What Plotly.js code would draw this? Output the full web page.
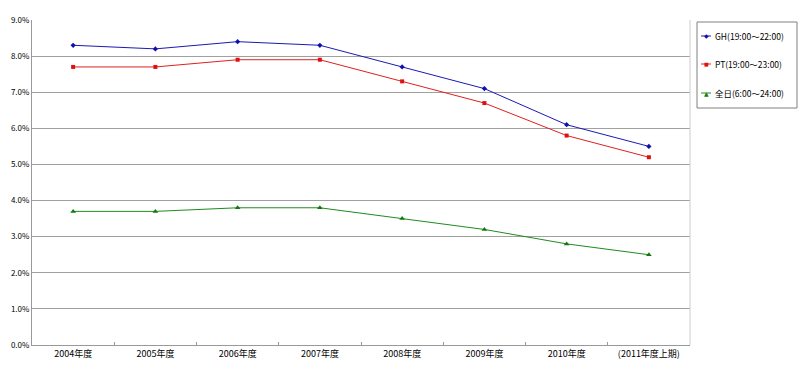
<!DOCTYPE html>
<html><head><meta charset="utf-8">
<script src="https://cdn.plot.ly/plotly-3.0.1.min.js"></script>
<style>html,body{margin:0;padding:0;background:#fff;}</style>
</head><body>
<div id="chart" style="width:800px;height:370px;"></div>
<script>
const categories = ["2004年度","2005年度","2006年度","2007年度","2008年度","2009年度","2010年度","(2011年度上期)"];
const seriesNames = ["GH(19:00～22:00)","PT(19:00～23:00)","全日(6:00～24:00)"];
const ghValues = [8.3, 8.2, 8.4, 8.3, 7.7, 7.1, 6.1, 5.5];
const ptValues = [7.7, 7.7, 7.9, 7.9, 7.3, 6.7, 5.8, 5.2];
const allDayValues = [3.7, 3.7, 3.8, 3.8, 3.5, 3.2, 2.8, 2.5];
const yTickVals = [0,1,2,3,4,5,6,7,8,9];
const yTickText = ["0.0%","1.0%","2.0%","3.0%","4.0%","5.0%","6.0%","7.0%","8.0%","9.0%"];

const font = "'Noto Sans CJK JP', 'DejaVu Sans', sans-serif";
const colors = ["#1a1ab4", "#e02020", "#208a20"];
const markerColors = ["#1010b0", "#e01010", "#107a10"];
const symbols = ["diamond", "square", "triangle-up"];
const glyphs = ["◆", "■", "▲"];
const seriesValues = [ghValues, ptValues, allDayValues];

const traces = seriesValues.map((v, i) => ({
  x: categories, y: v, name: seriesNames[i], mode: "lines+markers", showlegend: false,
  line: {color: colors[i], width: 1},
  marker: {symbol: symbols[i], size: i === 2 ? 5 : 4, color: markerColors[i]}
}));

// plot area geometry in pixels (for legend placement in paper coords)
const L = 32, R = 690, T = 20, B = 345;
const px = x => (x - L) / (R - L);
const py = y => (B - y) / (B - T);
const legendRows = [36, 64, 93];

const shapes = [
  {type: "line", xref: "paper", yref: "paper", x0: 1, x1: 1, y0: 0, y1: 1, line: {color: "#ccc", width: 1}},
  {type: "rect", xref: "paper", yref: "paper", x0: px(697), x1: px(797), y0: py(108), y1: py(22),
   line: {color: "#808080", width: 1}, fillcolor: "#fff"}
];
const annotations = [];
legendRows.forEach((ry, i) => {
  shapes.push({type: "line", xref: "paper", yref: "paper", x0: px(701), x1: px(711), y0: py(ry), y1: py(ry),
               line: {color: colors[i], width: 1}});
  annotations.push({xref: "paper", yref: "paper", x: px(706), y: py(ry), text: glyphs[i], showarrow: false,
                    xanchor: "center", yanchor: "middle", font: {family: "DejaVu Sans", size: i === 1 ? 5 : 6, color: markerColors[i]}});
  annotations.push({xref: "paper", yref: "paper", x: px(713), y: py(ry), text: seriesNames[i], showarrow: false,
                    xanchor: "left", yanchor: "middle", font: {family: font, size: 8.5, color: "#000"}});
});

const layout = {
  width: 800, height: 370,
  margin: {l: L, r: 800 - R, t: T, b: 370 - B},
  paper_bgcolor: "#fff", plot_bgcolor: "#fff",
  font: {family: font, size: 8, color: "#000"},
  showlegend: false,
  xaxis: {type: "category", range: [-0.5, 7.5], showgrid: false, showline: true, linecolor: "#999",
          linewidth: 1, mirror: false, ticks: "inside", ticklen: 3, tickcolor: "#999",
          tickson: "boundaries", tickfont: {family: font, size: 9}, fixedrange: true, automargin: false},
  yaxis: {range: [0, 9], tickvals: yTickVals, ticktext: yTickText, showgrid: true,
          gridcolor: "#a0a0a0", gridwidth: 1, showline: true, linecolor: "#999", linewidth: 1,
          zeroline: false, ticks: "", tickfont: {family: font, size: 8}, fixedrange: true, automargin: false},
  shapes: shapes,
  annotations: annotations
};
Plotly.newPlot("chart", traces, layout, {displayModeBar: false, staticPlot: true});
</script>
</body></html>
